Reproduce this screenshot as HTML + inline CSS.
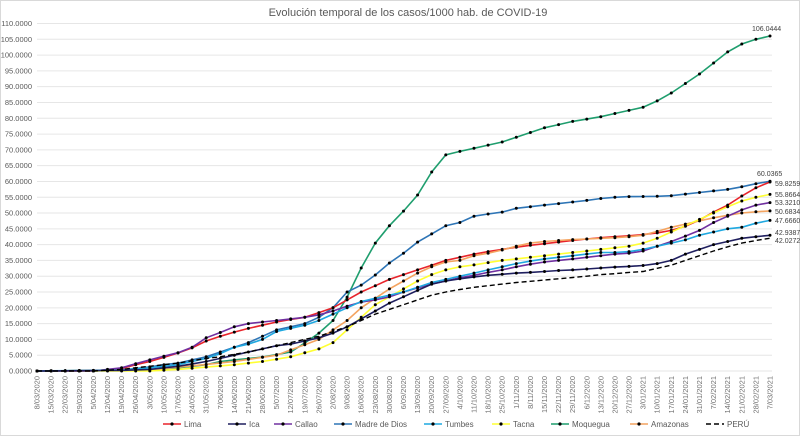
<!DOCTYPE html><html><head><meta charset="utf-8"><style>body{margin:0;background:#fff}svg{display:block;font-family:"Liberation Sans",sans-serif}</style></head><body>
<svg id="s" width="800" height="436" viewBox="0 0 800 436"></svg>
<script>
const s=document.getElementById('s');let h='';
h+='<rect x="0.5" y="0.5" width="799" height="435" fill="#fff" stroke="#d9d9d9"/>';
h+='<text x="408" y="16" text-anchor="middle" font-size="11" fill="#595959">Evolución temporal de los casos/1000 hab. de COVID-19</text>';
const X=i=>37+i*(733/52),Y=v=>371-v*(347.5/110);
for(let v=0;v<=110;v+=5){const y=Y(v);h+=`<line x1="37" x2="772" y1="${y}" y2="${y}" stroke="#e6e6e6" stroke-width="1"/>`;h+=`<text x="32" y="${y+2.5}" text-anchor="end" font-size="7.5" fill="#595959">${v.toFixed(4)}</text>`;}
const d0=new Date(2020,2,8);
for(let i=0;i<53;i++){const d=new Date(d0.getTime()+i*7*864e5+3600e3*12);const lab=d.getDate()+'/'+String(d.getMonth()+1).padStart(2,'0')+'/'+d.getFullYear();h+=`<text transform="translate(${X(i)+2.5},376) rotate(-90)" text-anchor="end" font-size="7.5" fill="#737373">${lab}</text>`;}
function ser(k){const a=[];for(let i=0;i<53;i++){let j=0;while(j<k.length-1&&k[j+1][0]<i)j++;const p=k[j],q=k[Math.min(j+1,k.length-1)];if(i<=p[0])a.push(p[1]);else if(i>=q[0])a.push(q[1]);else a.push(p[1]+(q[1]-p[1])*(i-p[0])/(q[0]-p[0]));}return a;}
const S=[
['#1f9e6e',ser([[0,0],[8,0.3],[10,1],[12,2],[13,3],[14,3.5],[16,4.4],[18,6],[19,8.9],[20,12],[21,16],[22,23.4],[23,32.6],[24,40.5],[25,46],[26,50.6],[27,55.7],[28,63],[29,68.4],[30,69.5],[31,70.5],[32,71.5],[33,72.5],[34,74],[35,75.5],[36,77],[37,78],[38,79],[40,80.5],[42,82.5],[43,83.5],[44,85.5],[45,88],[46,91],[47,94],[48,97.5],[49,101],[50,103.5],[51,105],[52,106.04]])],
['#2e75b6',ser([[0,0],[4,0],[5,0.2],[6,0.4],[7,0.8],[8,1.3],[9,2],[10,2.5],[11,3.5],[12,4.5],[13,6],[14,7.5],[15,9],[16,11],[17,13],[18,14],[19,15],[20,17],[21,20],[22,25],[23,27.2],[24,30.4],[25,34.2],[26,37.3],[27,40.8],[28,43.4],[29,46],[30,47],[31,49],[32,49.7],[33,50.3],[34,51.5],[35,52],[36,52.5],[37,53],[38,53.5],[39,54],[40,54.6],[41,55],[42,55.2],[44,55.3],[45,55.5],[46,56],[47,56.5],[48,57],[49,57.5],[50,58.3],[51,59.3],[52,60.04]])],
['#e8242b',ser([[0,0],[4,0],[6,0.8],[7,2],[8,3],[9,4.3],[10,5.7],[11,7.3],[12,9.5],[13,11],[14,12.3],[15,13.5],[16,14.5],[17,15.5],[18,16.3],[19,17],[20,18.5],[21,20],[22,22.5],[23,25],[24,27],[25,29],[26,30.5],[27,32],[28,33.5],[29,35],[30,36],[31,37],[32,37.8],[33,38.5],[34,39.2],[35,39.8],[36,40.3],[37,40.8],[38,41.3],[39,41.8],[40,42.2],[41,42.5],[42,42.8],[43,43.2],[44,43.7],[45,44.5],[46,45.8],[47,47.8],[48,50.3],[49,52.5],[50,55.4],[51,58],[52,59.83]])],
['#f4a460',ser([[0,0],[8,0.3],[14,3],[17,5],[20,10],[22,16],[23,20],[24,23],[25,26],[26,28.5],[27,31],[28,33],[29,34.5],[30,35],[31,36.5],[32,37.3],[33,38.3],[34,39.5],[35,40.5],[36,41],[37,41.3],[38,41.6],[39,41.8],[40,42],[41,42.2],[42,42.5],[43,43],[44,44.2],[45,45.5],[46,46.5],[47,47.5],[48,48.5],[49,49.3],[50,50],[51,50.4],[52,50.68]])],
['#ffff33',ser([[0,0],[8,0],[10,0.5],[14,2],[16,3],[18,4.5],[20,7],[21,9],[22,13],[23,17],[24,21],[25,23.5],[26,26],[27,28.5],[28,30.5],[29,32],[30,33],[31,33.6],[32,34.3],[33,35],[34,35.5],[35,36],[36,36.5],[37,37],[38,37.5],[39,38],[40,38.5],[41,39],[42,39.5],[43,40.5],[44,42],[45,44],[46,46],[47,48],[48,50],[49,52],[50,53.8],[51,55],[52,55.89]])],
['#7030a0',ser([[0,0],[4,0],[6,1],[7,2.3],[8,3.5],[9,4.7],[10,5.8],[11,7.5],[12,10.5],[13,12.2],[14,14],[15,15],[16,15.5],[17,16],[18,16.5],[19,17],[20,17.8],[21,19],[22,20.5],[23,21.8],[24,22.5],[25,23.5],[26,25],[27,26.3],[28,27.5],[29,28.5],[30,29.5],[31,30.3],[32,31.2],[33,32],[34,33],[35,33.8],[36,34.5],[37,35],[38,35.5],[39,36],[40,36.5],[41,37],[42,37.3],[43,38],[44,39.5],[45,41],[46,42.7],[47,44.5],[48,47],[49,49],[50,51],[51,52.5],[52,53.32]])],
['#1fa8e0',ser([[0,0],[6,0.3],[8,1],[10,2],[12,4],[13,5.5],[14,7.5],[15,8.5],[16,10],[17,12.5],[18,13.5],[19,14.5],[20,16],[21,18],[22,20],[23,22],[24,23],[25,24],[26,25],[27,26.5],[28,28],[29,29],[30,30],[31,31],[32,32],[33,33],[34,34],[35,34.8],[36,35.5],[37,36],[38,36.5],[39,37],[40,37.5],[41,37.5],[42,37.8],[43,38.5],[44,39.5],[45,40.5],[46,41.5],[47,43],[48,44],[49,45],[50,45.5],[51,46.8],[52,47.67]])],
['#1f1f5f',ser([[0,0],[6,0.2],[8,0.5],[10,1.5],[12,3],[14,5],[15,6],[16,7],[17,8],[18,8.5],[19,9.5],[20,10.5],[21,12],[22,14],[23,16.5],[24,19],[25,21.5],[26,23.5],[27,25.5],[28,27.5],[29,28.5],[30,29.2],[31,29.8],[32,30.3],[33,30.6],[34,31],[35,31.2],[36,31.5],[37,31.8],[38,32],[39,32.3],[40,32.6],[41,32.9],[42,33.1],[43,33.4],[44,34],[45,35],[46,37],[47,38.5],[48,40],[49,41],[50,42],[51,42.5],[52,42.94]])]
];
S.forEach(([c,a])=>{h+=`<polyline fill="none" stroke="${c}" stroke-width="1.6" points="${a.map((v,i)=>X(i).toFixed(1)+','+Y(v).toFixed(1)).join(' ')}"/>`;a.forEach((v,i)=>h+=`<circle cx="${X(i).toFixed(1)}" cy="${Y(v).toFixed(1)}" r="1.5" fill="#000"/>`);});
const P=ser([[0,0],[4,0],[6,0.5],[8,1.5],[10,2.5],[12,4],[13,4.5],[14,5.3],[15,6],[16,7],[17,8],[18,9],[19,10],[20,11],[21,12.5],[22,14],[23,16],[24,18],[25,19.5],[26,21],[27,22.5],[28,24],[29,25],[30,25.8],[31,26.5],[32,27],[33,27.5],[34,28],[35,28.4],[36,28.8],[37,29.2],[38,29.6],[39,30],[40,30.5],[41,30.8],[42,31.2],[43,31.5],[44,32.5],[45,33.5],[46,35],[47,36.5],[48,38],[49,39.3],[50,40.5],[51,41.3],[52,42.03]]);
h+=`<polyline fill="none" stroke="#000" stroke-width="1.4" stroke-dasharray="5,3" points="${P.map((v,i)=>X(i).toFixed(1)+','+Y(v).toFixed(1)).join(' ')}"/>`;
[['106.0444',752,31],['60.0365',757,176],['59.8259',775,186],['55.8664',775,197],['53.3210',775,205],['50.6834',775,214],['47.6660',775,223],['42.9387',775,235],['42.0272',775,243]].forEach(([t,x,y])=>h+=`<text x="${x}" y="${y}" font-size="7" fill="#404040">${t}</text>`);
const L=[['Lima','#e8242b',163],['Ica','#1f1f5f',228],['Callao','#7030a0',274],['Madre de Dios','#2e75b6',334],['Tumbes','#1fa8e0',424],['Tacna','#ffff33',492],['Moquegua','#1f9e6e',551],['Amazonas','#f4a460',630],['PERÚ','#000',706]];
L.forEach(([t,c,x])=>{if(t=='PERÚ')h+=`<line x1="${x}" x2="${x+18}" y1="424" y2="424" stroke="#000" stroke-width="1.4" stroke-dasharray="5,3"/>`;else h+=`<line x1="${x}" x2="${x+18}" y1="424" y2="424" stroke="${c}" stroke-width="1.6"/><circle cx="${x+9}" cy="424" r="1.6" fill="#000"/>`;h+=`<text x="${x+21}" y="427" font-size="8" fill="#595959">${t}</text>`;});
s.innerHTML=h;
</script></body></html>
